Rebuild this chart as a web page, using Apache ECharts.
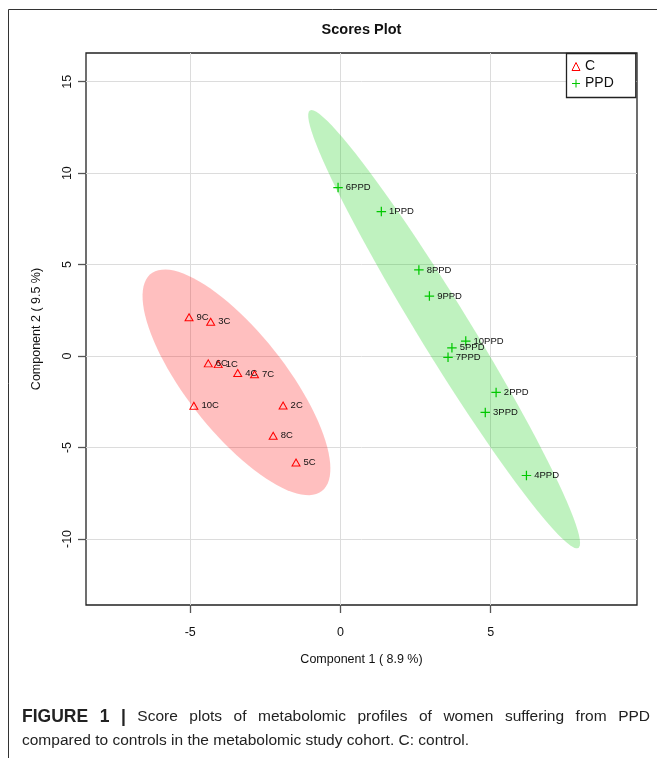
<!DOCTYPE html>
<html>
<head>
<meta charset="utf-8">
<script src="https://cdn.jsdelivr.net/npm/echarts@6/dist/echarts.min.js"></script>
<style>
html,body{margin:0;padding:0;background:#fff;}
#chart{width:657px;height:758px;}
</style>
</head>
<body>
<div id="chart"></div>
<script>
// ---- data ----
var cNames = ['1C','2C','3C','4C','5C','6C','7C','8C','9C','10C'];
var cX = [-4.07, -1.91, -4.32, -3.42, -1.48, -4.40, -2.86, -2.24, -5.04, -4.88];
var cY = [-0.44, -2.70,  1.88, -0.93, -5.82, -0.40, -0.99, -4.36,  2.12, -2.72];

var ppdNames = ['1PPD','2PPD','3PPD','4PPD','5PPD','6PPD','7PPD','8PPD','9PPD','10PPD'];
var ppdX = [1.36, 5.18, 4.82, 6.19, 3.71, -0.08, 3.58, 2.61, 2.96, 4.17];
var ppdY = [7.90, -1.99, -3.08, -6.53, 0.45, 9.21, -0.07, 4.71, 3.28, 0.82];

var xTicks = [-5, 0, 5];
var yTicks = [-10, -5, 0, 5, 10, 15];
var xRange = [-8.47, 9.87];
var yRange = [-13.61, 16.57];

var captionLine1Bold = 'FIGURE 1 |';
var captionLine1 = 'Score plots of metabolomic profiles of women suffering from PPD';
var captionLine2 = 'compared to controls in the metabolomic study cohort. C: control.';

// 95% confidence ellipse from the group's covariance (as R's ellipse package does)
function ellipsePoints(xs, ys, npoints) {
  var n = xs.length, mx = 0, my = 0;
  for (var i = 0; i < n; i++) { mx += xs[i]; my += ys[i]; }
  mx /= n; my /= n;
  var sxx = 0, syy = 0, sxy = 0;
  for (i = 0; i < n; i++) {
    sxx += (xs[i] - mx) * (xs[i] - mx);
    syy += (ys[i] - my) * (ys[i] - my);
    sxy += (xs[i] - mx) * (ys[i] - my);
  }
  sxx /= (n - 1); syy /= (n - 1); sxy /= (n - 1);
  var sx = Math.sqrt(sxx), sy = Math.sqrt(syy);
  var r = Math.max(-1, Math.min(1, sxy / (sx * sy)));
  var d = Math.acos(r);
  var t = Math.sqrt(5.991465); // qchisq(0.95, 2)
  var pts = [];
  for (i = 0; i < npoints; i++) {
    var a = 2 * Math.PI * i / (npoints - 1);
    pts.push([t * sx * Math.cos(a + d / 2) + mx, t * sy * Math.cos(a - d / 2) + my]);
  }
  return pts;
}
var cEllipse = ellipsePoints(cX, cY, 100);
var ppdEllipse = ellipsePoints(ppdX, ppdY, 100);

var RED = '#FF0000';
var GREEN = '#00C800';
var PLUS = 'path://M4.35,0H5.65V4.35H10V5.65H5.65V10H4.35V5.65H0V4.35H4.35Z';
var FONT = 'Liberation Sans, Arial, sans-serif';

function ellipseSeries(name, pts, fill) {
  return {
    name: name,
    type: 'custom',
    silent: true,
    z: 1,
    data: [[pts[0][0], pts[0][1]]],
    renderItem: function (params, api) {
      var coords = pts.map(function (p) { return api.coord(p); });
      return { type: 'polygon', shape: { points: coords }, style: { fill: fill, stroke: null } };
    }
  };
}

var labelStyle = {
  show: true, position: 'right', distance: 3,
  fontSize: 9.5, color: '#111', fontFamily: FONT,
  formatter: '{b}'
};

// justified first caption line (words spread over the full caption width)
var capSize = 15.5, capBoldSize = 17.5, capLeft = 22, capRight = 650, capY1 = 717, capY2 = 741;
var ctx = document.createElement('canvas').getContext('2d');
var words = captionLine1Bold.split(' ').map(function (w) { return { t: w, b: true }; })
  .concat(captionLine1.split(' ').map(function (w) { return { t: w, b: false }; }));
var totalW = 0;
words.forEach(function (w) {
  ctx.font = (w.b ? 'bold ' + capBoldSize : capSize) + 'px ' + FONT;
  w.w = ctx.measureText(w.t).width;
  totalW += w.w;
});
var gap = (capRight - capLeft - totalW) / (words.length - 1);
var captionGraphics = [];
var cx = capLeft;
words.forEach(function (w) {
  captionGraphics.push({
    type: 'text', x: cx, y: capY1, silent: true,
    style: { text: w.t, fontSize: w.b ? capBoldSize : capSize, fontWeight: w.b ? 'bold' : 'normal', fontFamily: FONT,
             fill: '#222', textVerticalAlign: 'middle', verticalAlign: 'middle' }
  });
  cx += w.w + gap;
});
captionGraphics.push({
  type: 'text', x: capLeft, y: capY2, silent: true,
  style: { text: captionLine2, fontSize: capSize, fontFamily: FONT, fill: '#222',
           textVerticalAlign: 'middle', verticalAlign: 'middle' }
});

var chart = echarts.init(document.getElementById('chart'), null, { renderer: 'canvas' });
chart.setOption({
  animation: false,
  backgroundColor: '#fff',
  textStyle: { fontFamily: FONT },
  title: {
    text: 'Scores Plot', left: 361.5, top: 22, padding: 0, textAlign: 'center',
    textStyle: { fontSize: 14.5, fontWeight: 'bold', color: '#111', fontFamily: FONT }
  },
  grid: {
    left: 86, top: 53, width: 551, height: 552,
    show: true, borderColor: '#222', borderWidth: 1.3, backgroundColor: 'transparent'
  },
  legend: {
    orient: 'vertical', left: 566.5, top: 53.5,
    padding: [6, 22, 7, 5], itemGap: 3,
    itemWidth: 8, itemHeight: 8,
    borderColor: '#222', borderWidth: 1.3, backgroundColor: '#fff',
    selectedMode: false,
    textStyle: { fontSize: 14, color: '#111', lineHeight: 13, fontFamily: FONT },
    data: [
      { name: 'C', icon: 'triangle', itemStyle: { color: 'rgba(0,0,0,0)', borderColor: RED, borderWidth: 1 } },
      { name: 'PPD', icon: PLUS, itemStyle: { color: GREEN, borderWidth: 0 } }
    ]
  },
  xAxis: {
    type: 'value', min: xRange[0], max: xRange[1],
    name: 'Component 1 ( 8.9 %)', nameLocation: 'middle', nameGap: 48,
    nameTextStyle: { fontSize: 12.5, color: '#111' },
    axisLine: { show: false, onZero: false },
    axisTick: { show: true, length: 8, customValues: xTicks, lineStyle: { color: '#555', width: 1.3 } },
    axisLabel: { customValues: xTicks, margin: 21, fontSize: 12.5, color: '#111' },
    splitLine: { show: true, customValues: xTicks, lineStyle: { color: '#dcdcdc', width: 1 } }
  },
  yAxis: {
    type: 'value', min: yRange[0], max: yRange[1],
    name: 'Component 2 ( 9.5 %)', nameLocation: 'middle', nameGap: 43, nameRotate: 90,
    nameTextStyle: { fontSize: 12.5, color: '#111' },
    axisLine: { show: false, onZero: false },
    axisTick: { show: true, length: 8, customValues: yTicks, lineStyle: { color: '#555', width: 1.3 } },
    axisLabel: { customValues: yTicks, margin: 12, rotate: 90, fontSize: 12.5, color: '#111' },
    splitLine: { show: true, customValues: yTicks, lineStyle: { color: '#dcdcdc', width: 1 } }
  },
  series: [
    ellipseSeries('C ellipse', cEllipse, 'rgba(255,0,0,0.25)'),
    ellipseSeries('PPD ellipse', ppdEllipse, 'rgba(0,205,0,0.25)'),
    {
      name: 'C', type: 'scatter', z: 3,
      symbol: 'triangle', symbolSize: [8, 7],
      itemStyle: { color: 'rgba(0,0,0,0)', borderColor: RED, borderWidth: 1, opacity: 1 },
      label: labelStyle,
      data: cX.map(function (x, i) { return { name: cNames[i], value: [x, cY[i]] }; })
    },
    {
      name: 'PPD', type: 'scatter', z: 3,
      symbol: PLUS, symbolSize: 9.5,
      itemStyle: { color: GREEN, opacity: 1 },
      label: labelStyle,
      data: ppdX.map(function (x, i) { return { name: ppdNames[i], value: [x, ppdY[i]] }; })
    }
  ],
  graphic: [
    { type: 'line', shape: { x1: 8.5, y1: 9.5, x2: 657, y2: 9.5 }, style: { stroke: '#333', lineWidth: 1 }, silent: true },
    { type: 'line', shape: { x1: 8.5, y1: 9.5, x2: 8.5, y2: 758 }, style: { stroke: '#333', lineWidth: 1 }, silent: true }
  ].concat(captionGraphics)
});
</script>
</body>
</html>
